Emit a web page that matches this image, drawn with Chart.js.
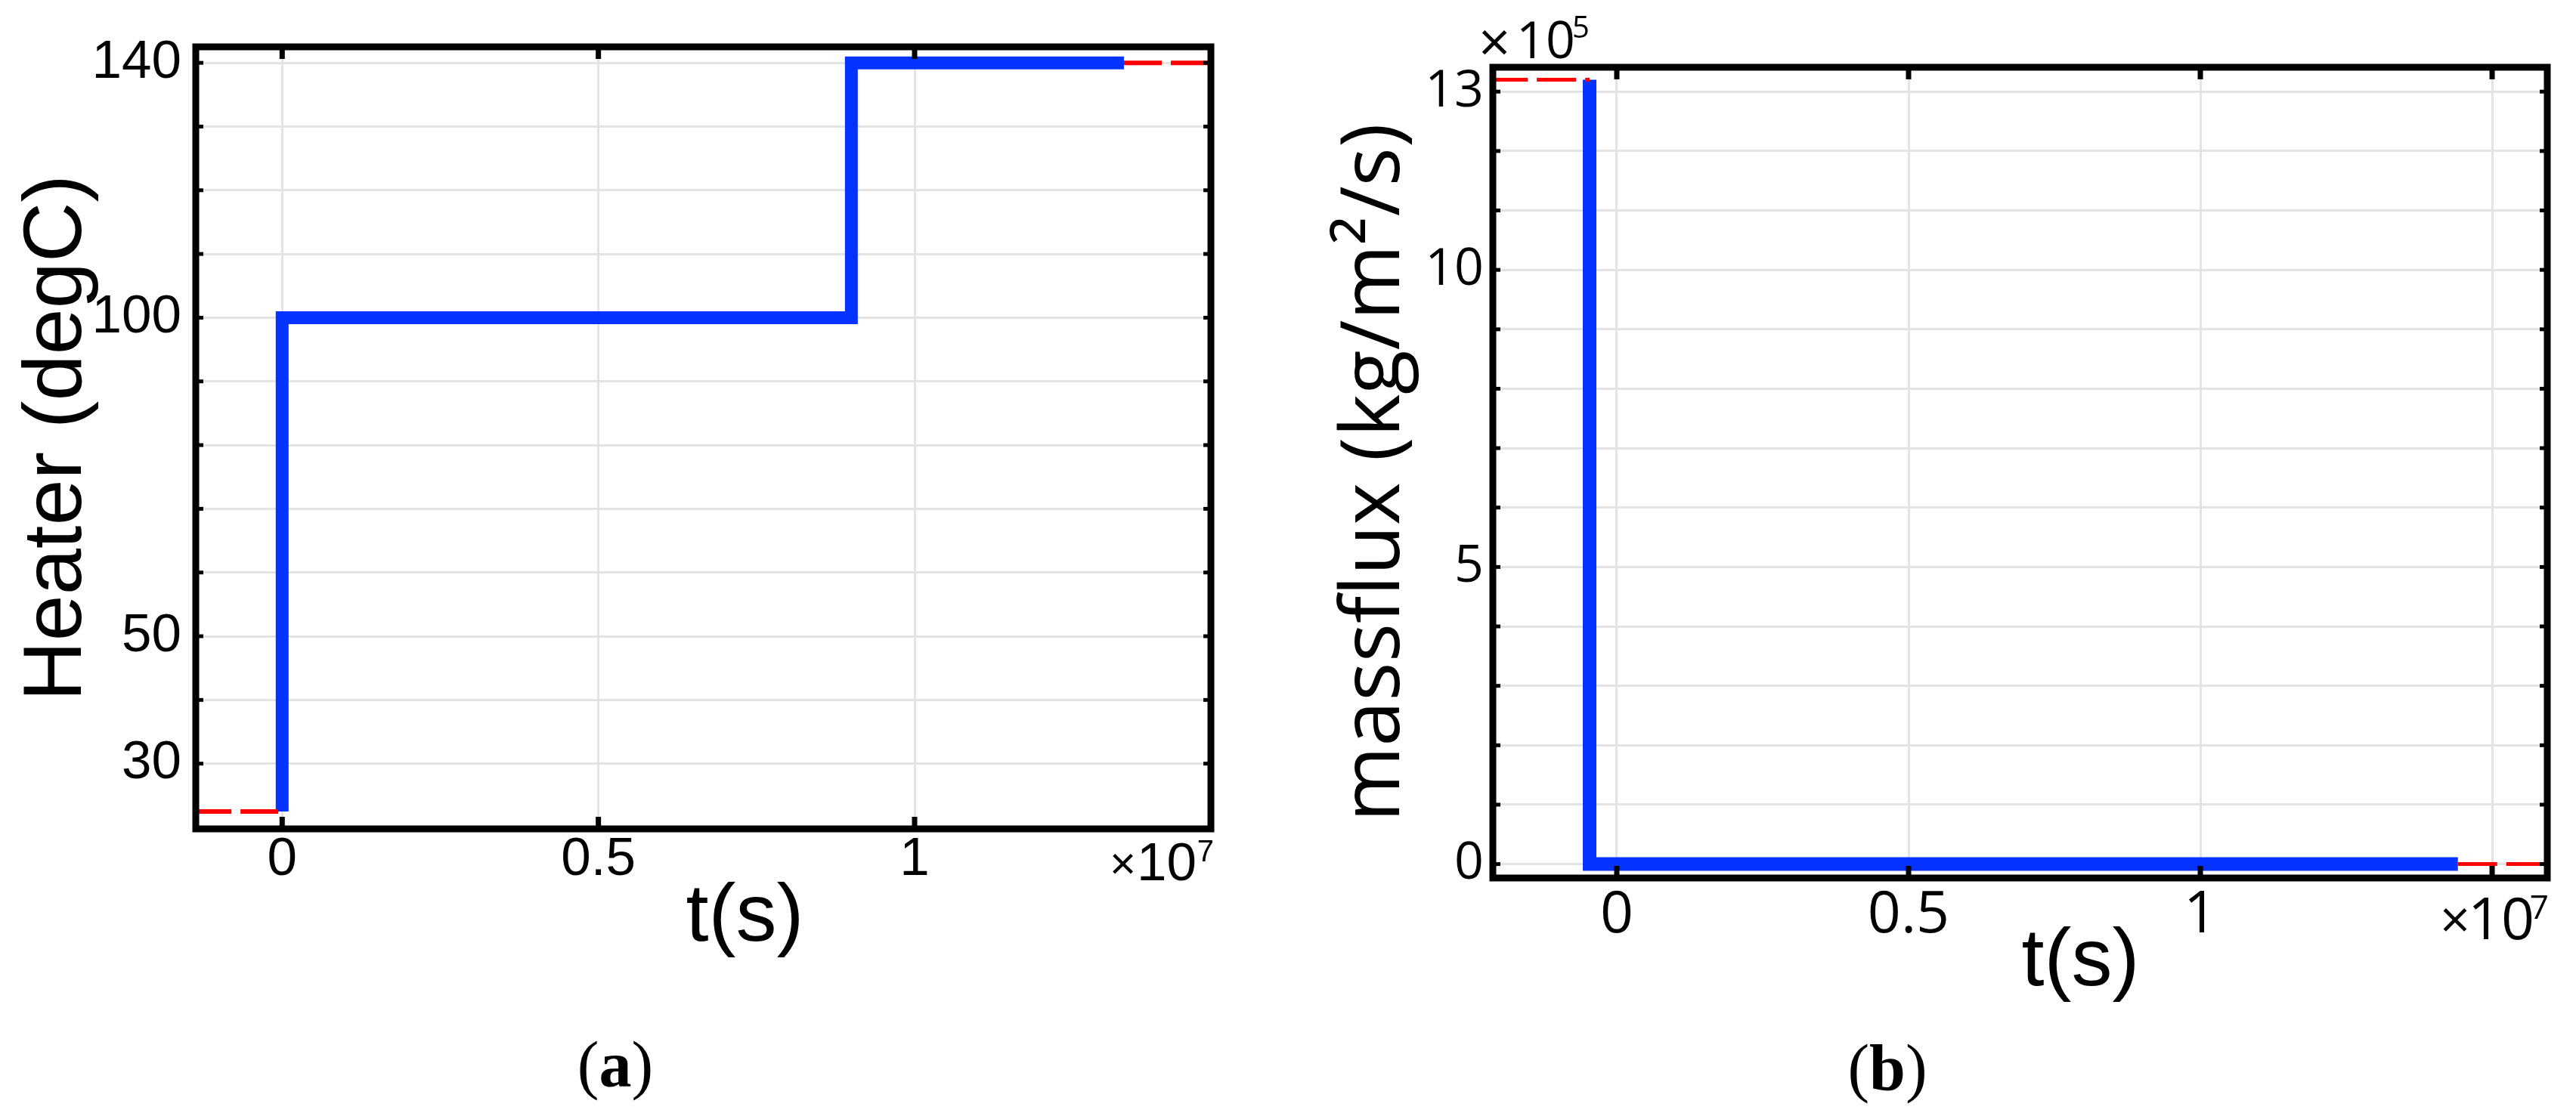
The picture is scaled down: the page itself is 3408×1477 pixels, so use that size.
<!DOCTYPE html>
<html><head><meta charset="utf-8">
<script src="https://cdn.jsdelivr.net/npm/chart.js@4.4.1/dist/chart.umd.min.js"></script>
<style>
html,body{margin:0;padding:0;background:#fff;}
body{width:3408px;height:1477px;position:relative;overflow:hidden;}
#wa{position:absolute;left:0;top:0;width:1700px;height:1340px;}
#wb{position:absolute;left:1700px;top:0;width:1708px;height:1400px;}
.cap{position:absolute;width:300px;text-align:center;font-family:"Liberation Serif","Times New Roman",serif;font-size:86px;line-height:86px;color:#000;}
.cap b{font-weight:bold;}
</style></head><body>
<div id="wa"><canvas id="ca" width="1700" height="1340"></canvas></div>
<div id="wb"><canvas id="cb" width="1708" height="1400"></canvas></div>
<div class="cap" style="left:664px;top:1366px;">(<b>a</b>)</div>
<div class="cap" style="left:2347px;top:1370px;">(<b>b</b>)</div>
<script>
// ---------- Panel (a): Heater temperature ----------
const heaterTime = [0, 0, 0.9, 0.9, 1.331];          // t, ×10^7 s
const heaterTemp = [22.5, 100, 100, 140, 140];       // degC
const heaterInitTime = [-0.14, 0];
const heaterInitTemp = [22.5, 22.5];
const heaterEndTime = [1.331, 1.47];
const heaterEndTemp = [140, 140];
const heaterXTicks = [0, 0.5, 1];
const heaterYTicks = [30, 40, 50, 60, 70, 80, 90, 100, 110, 120, 130, 140];
const heaterYLabels = [30, 50, 100, 140];

// ---------- Panel (b): Mass flux ----------
const fluxTime = [-0.0466, -0.0466, 1.4413];         // t, ×10^7 s
const fluxValue = [13.2, 0, 0];                      // ×10^5 kg/m²/s
const fluxInitTime = [-0.22, -0.0466];
const fluxInitValue = [13.2, 13.2];
const fluxEndTime = [1.4413, 1.6];
const fluxEndValue = [0, 0];
const fluxXTicks = [0, 0.5, 1, 1.5];
const fluxXLabels = [0, 0.5, 1];
const fluxYTicks = [0, 1, 2, 3, 4, 5, 6, 7, 8, 9, 10, 11, 12, 13];
const fluxYLabels = [0, 5, 10, 13];

const BLUE = '#0433ff', RED = '#ff0000', GRID = '#e3e3e3';
const SANS = '"Liberation Sans", Arial, sans-serif';
const OPEN = '"Open Sans", sans-serif';

function pts(xs, ys) { return xs.map((x, i) => ({x: x, y: ys[i]})); }

const framePlugin = {
  id: 'frame',
  afterDraw(chart, args, o) {
    const {ctx, chartArea: a, scales} = chart;
    const xs = scales.x, ys = scales.y;
    ctx.save();
    ctx.strokeStyle = '#000';
    ctx.lineCap = 'butt';
    ctx.lineWidth = 5;
    ys.ticks.forEach(t => {
      const p = ys.getPixelForValue(t.value);
      ctx.beginPath(); ctx.moveTo(a.left, p); ctx.lineTo(a.left + 10, p); ctx.stroke();
      ctx.beginPath(); ctx.moveTo(a.right, p); ctx.lineTo(a.right - 10, p); ctx.stroke();
    });
    ctx.lineWidth = 7;
    xs.ticks.forEach(t => {
      const p = xs.getPixelForValue(t.value);
      ctx.beginPath(); ctx.moveTo(p, a.bottom); ctx.lineTo(p, a.bottom - 16); ctx.stroke();
      ctx.beginPath(); ctx.moveTo(p, a.top); ctx.lineTo(p, a.top + 16); ctx.stroke();
    });
    ctx.lineWidth = 9;
    ctx.lineJoin = 'miter';
    ctx.strokeRect(a.left, a.top, a.right - a.left, a.bottom - a.top);
    ctx.fillStyle = '#000';
    // x-axis title (placed right of centre, as in the original)
    if (o.xTitle) {
      ctx.font = '108px ' + SANS;
      ctx.textAlign = 'center';
      ctx.textBaseline = 'middle';
      ctx.fillText(o.xTitle.text, (a.left + a.right) / 2 + o.xTitle.dx, a.bottom + o.xTitle.dy);
    }
    ctx.textBaseline = 'alphabetic';
    (o.exps || []).forEach(e => {
      ctx.font = e.font;
      ctx.textAlign = e.align;
      const bx = e.ax === 'right' ? a.right : a.left;
      const by = e.ay === 'bottom' ? a.bottom : a.top;
      ctx.fillText(e.text, bx + e.dx, by + e.dy);
    });
    ctx.restore();
  }
};

function makeChart(id, cfg) {
  return new Chart(document.getElementById(id), {
    type: 'scatter',
    data: {datasets: cfg.datasets},
    options: {
      responsive: false, animation: false, devicePixelRatio: 1,
      layout: {padding: cfg.padding},
      plugins: {legend: {display: false}, tooltip: {enabled: false},
        frame: {exps: cfg.exps, xTitle: {text: 't(s)', dx: cfg.xTitleDx, dy: cfg.xTitleDy}}},
      scales: {
        x: {
          type: 'linear', position: 'bottom', min: cfg.xMin, max: cfg.xMax,
          afterBuildTicks: s => { s.ticks = cfg.xTicks.map(v => ({value: v})); },
          afterFit: s => { s.height = cfg.xHeight; s.paddingLeft = 0; s.paddingRight = 0; },
          grid: {color: GRID, lineWidth: 3, drawTicks: false},
          border: {display: false},
          ticks: {
            autoSkip: false, maxRotation: 0, minRotation: 0, padding: cfg.xTickPad, color: '#000',
            font: {family: cfg.xTickFamily, size: cfg.xTickSize, lineHeight: 1},
            callback: v => cfg.xLabels.includes(v) ? String(v) : ''
          },
          title: {display: false, text: 't(s)'}
        },
        y: {
          type: 'linear', position: 'left', min: cfg.yMin, max: cfg.yMax,
          afterBuildTicks: s => { s.ticks = cfg.yTicks.map(v => ({value: v})); },
          afterFit: s => { s.width = cfg.yWidth; s.paddingTop = 0; s.paddingBottom = 0; },
          grid: {color: GRID, lineWidth: 3, drawTicks: false},
          border: {display: false},
          ticks: {
            autoSkip: false, padding: cfg.yTickPad, color: '#000',
            font: {family: cfg.yTickFamily, size: cfg.yTickSize, lineHeight: 1},
            callback: v => cfg.yLabels.includes(v) ? String(v) : ''
          },
          title: {display: true, text: cfg.yTitle, color: '#000',
            font: {family: cfg.yTitleFamily, size: cfg.yTitleSize, lineHeight: 1},
            padding: {top: cfg.yTitlePad, bottom: 0}}
        }
      }
    },
    plugins: [framePlugin]
  });
}

function lineSet(data, color, width, dash) {
  return {data: data, showLine: true, borderColor: color, backgroundColor: color,
    borderWidth: width, borderDash: dash || [], pointRadius: 0, pointHoverRadius: 0,
    tension: 0, fill: false, borderCapStyle: 'butt', borderJoinStyle: 'miter', clip: 0};
}

makeChart('ca', {
  datasets: [
    lineSet(pts(heaterInitTime, heaterInitTemp), RED, 6, [50, 12]),
    lineSet(pts(heaterEndTime, heaterEndTemp), RED, 6, [50, 12]),
    lineSet(pts(heaterTime, heaterTemp), BLUE, 17)
  ],
  padding: {left: 0, top: 62, right: 98, bottom: 43},
  xMin: -0.1366, xMax: 1.4685, yMin: 19.76, yMax: 142.51,
  xTicks: heaterXTicks, xLabels: heaterXTicks,
  yTicks: heaterYTicks, yLabels: heaterYLabels,
  xHeight: 200, yWidth: 259,
  xTickPad: 6, yTickPad: 19, yTitlePad: 22,
  xTitleDx: 55, xTitleDy: 118,
  xTickFamily: SANS, xTickSize: 71, yTickFamily: SANS, yTickSize: 71,
  yTitle: 'Heater (degC)', yTitleFamily: SANS, yTitleSize: 110,
  exps: [
    {text: '×', font: '60px ' + SANS, align: 'right', ax: 'right', ay: 'bottom', dx: -99, dy: 66},
    {text: '10', font: '71px ' + SANS, align: 'right', ax: 'right', ay: 'bottom', dx: -19, dy: 68},
    {text: '7', font: '40px ' + SANS, align: 'right', ax: 'right', ay: 'bottom', dx: 4, dy: 43}
  ]
});

makeChart('cb', {
  datasets: [
    lineSet(pts(fluxInitTime, fluxInitValue), RED, 5, [52, 12]),
    lineSet(pts(fluxEndTime, fluxEndValue), RED, 5, [52, 12]),
    lineSet(pts(fluxTime, fluxValue), BLUE, 18)
  ],
  padding: {left: 0, top: 89, right: 38, bottom: 38},
  xMin: -0.2124, xMax: 1.5945, yMin: -0.234, yMax: 13.41,
  xTicks: fluxXTicks, xLabels: fluxXLabels,
  yTicks: fluxYTicks, yLabels: fluxYLabels,
  xHeight: 200, yWidth: 275,
  xTickPad: 12, yTickPad: 12, yTitlePad: 66,
  xTitleDx: 80, xTitleDy: 112,
  xTickFamily: OPEN, xTickSize: 77, yTickFamily: OPEN, yTickSize: 68,
  yTitle: 'massflux (kg/m²/s)', yTitleFamily: OPEN, yTitleSize: 108,
  exps: [
    {text: '×', font: '70px ' + OPEN, align: 'right', ax: 'right', ay: 'bottom', dx: -102, dy: 80},
    {text: '10', font: '77px ' + OPEN, align: 'right', ax: 'right', ay: 'bottom', dx: -17, dy: 81},
    {text: '7', font: '44px ' + OPEN, align: 'right', ax: 'right', ay: 'bottom', dx: 2, dy: 54},
    {text: '×', font: '74px ' + OPEN, align: 'left', ax: 'left', ay: 'top', dx: -19, dy: -7},
    {text: '10', font: '68px ' + OPEN, align: 'left', ax: 'left', ay: 'top', dx: 31, dy: -12},
    {text: '5', font: '40px ' + OPEN, align: 'left', ax: 'left', ay: 'top', dx: 105, dy: -39}
  ]
});
</script>
</body></html>
